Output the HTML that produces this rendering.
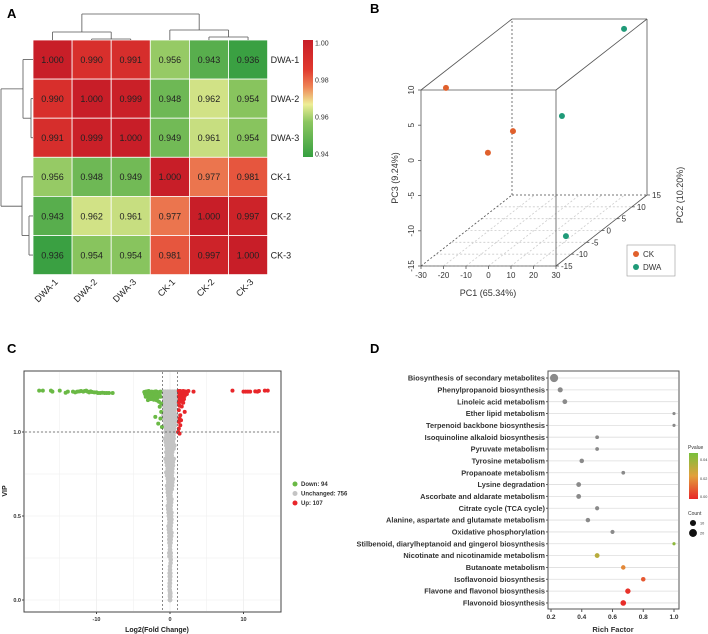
<!DOCTYPE html>
<html><head><meta charset="utf-8"><style>
html,body{margin:0;padding:0;background:#fff;}
svg{display:block;font-family:"Liberation Sans",Arial,sans-serif;}
</style></head><body>
<svg id="fig" width="708" height="634" viewBox="0 0 708 634" xmlns="http://www.w3.org/2000/svg">
<g id="pA"></g>
<g id="pB"></g>
<g id="pC"></g>
<g id="pD"></g>
</svg>
<script>
// ===== Panel A data =====
const samples = ["DWA-1","DWA-2","DWA-3","CK-1","CK-2","CK-3"];
const corrRow1 = [1.000,0.990,0.991,0.956,0.943,0.936];
const corrRow2 = [0.990,1.000,0.999,0.948,0.962,0.954];
const corrRow3 = [0.991,0.999,1.000,0.949,0.961,0.954];
const corrRow4 = [0.956,0.948,0.949,1.000,0.977,0.981];
const corrRow5 = [0.943,0.962,0.961,0.977,1.000,0.997];
const corrRow6 = [0.936,0.954,0.954,0.981,0.997,1.000];
const colorbarTicks = [1.00,0.98,0.96,0.94];
// ===== Panel B data =====
const pcaGroups = ["CK","CK","CK","DWA","DWA","DWA"];
const pc1Vals = [-18.9,-2.6,-7.0,19.8,28.6,14.2];
const pc2Vals = [-15,-5,-10,15,-12,0];
const pc3Vals = [10.3,0.8,-0.6,8.6,5.3,-15.8];
const pc1Ticks = [-30,-20,-10,0,10,20,30];
const pc2Ticks = [-15,-10,-5,0,5,10,15];
const pc3Ticks = [10,5,0,-5,-10,-15];
// ===== Panel C data =====
const downX = [-17.8,-17.3,-16.2,-16.0,-15.0,-14.2,-13.9,-13.2,-12.9,-12.6,-12.3,-12.1,-11.8,-11.6,-11.4,-11.2,-11.0,-10.8,-10.6,-10.3,-10.0,-9.8,-9.5,-9.2,-8.9,-8.6,-8.3,-7.8,-3.5,-3.3,-3.1,-2.9,-2.7,-2.5,-2.3,-2.1,-1.9,-1.7,-1.5,-1.3,-3.4,-3.2,-2.8,-2.6,-2.4,-2.2,-2.0,-1.8,-1.6,-1.4,-3.3,-2.9,-2.5,-2.1,-1.7,-1.3,-3.0,-2.6,-2.2,-1.8,-1.5,-1.2,-1.4,-1.2,-2.0,-1.3,-1.6,-1.1];
const downY = [1.246,1.246,1.246,1.240,1.246,1.234,1.240,1.240,1.236,1.240,1.242,1.244,1.240,1.244,1.246,1.240,1.236,1.242,1.238,1.236,1.236,1.232,1.232,1.234,1.232,1.232,1.232,1.232,1.238,1.240,1.242,1.244,1.238,1.240,1.236,1.240,1.242,1.238,1.236,1.240,1.226,1.224,1.226,1.222,1.224,1.226,1.220,1.224,1.222,1.226,1.210,1.206,1.212,1.208,1.204,1.210,1.190,1.196,1.192,1.188,1.180,1.170,1.150,1.120,1.090,1.080,1.050,1.030];
const upX = [1.2,1.4,1.6,1.8,2.0,2.2,2.5,3.2,1.3,1.5,1.7,1.9,2.1,2.3,1.2,1.4,1.6,1.8,2.0,1.3,1.5,1.7,1.9,1.2,1.5,1.8,1.3,1.6,2.0,1.2,1.4,1.3,1.5,1.2,1.4,1.2,8.5,10.0,10.3,10.6,10.9,11.6,11.9,12.1,12.9,13.3,1.1,1.3];
const upY = [1.244,1.244,1.240,1.244,1.242,1.240,1.244,1.240,1.228,1.226,1.230,1.226,1.228,1.226,1.212,1.214,1.210,1.212,1.214,1.196,1.198,1.194,1.196,1.176,1.180,1.174,1.156,1.152,1.120,1.130,1.100,1.080,1.070,1.060,1.040,1.020,1.246,1.240,1.240,1.240,1.240,1.242,1.240,1.244,1.246,1.246,1.000,0.990];
const unchX = [-0.9,-0.6,-0.3,0.0,0.3,0.6,0.9,-0.8,-0.4,0.1,0.5,0.8,-0.9,-0.5,-0.1,0.4,0.8,-0.7,-0.3,0.2,0.6,-0.8,-0.4,0.0,0.4,0.8,-0.7,-0.2,0.3,0.7,-0.6,-0.2,0.2,0.6,-0.7,-0.3,0.1,0.5,-0.5,-0.1,0.3,0.6,-0.5,-0.1,0.3,-0.6,-0.2,0.2,0.5,-0.4,0.0,0.4,-0.5,-0.1,0.3,-0.3,0.1,0.4,-0.4,0.0,0.3,-0.3,0.1,-0.2,0.2,-0.3,0.1,-0.2,0.2,-0.1,0.2,-0.2,0.1,-0.1,0.2,-0.1,0.1,0.0,0.1,-0.1,0.1,0.0,-0.05,0.05,0.0,-0.05,0.0,0.05,0.0,-0.05,0.0,0.0,-0.6,0.6,-0.8,0.8,-0.9,0.9];
const unchY = [1.24,1.24,1.24,1.24,1.24,1.24,1.24,1.20,1.20,1.20,1.20,1.20,1.16,1.16,1.16,1.16,1.16,1.12,1.12,1.12,1.12,1.08,1.08,1.08,1.08,1.08,1.04,1.04,1.04,1.04,1.00,1.00,1.00,1.00,0.96,0.96,0.96,0.96,0.92,0.92,0.92,0.92,0.88,0.88,0.88,0.84,0.84,0.84,0.84,0.80,0.80,0.80,0.76,0.76,0.76,0.72,0.72,0.72,0.68,0.68,0.68,0.64,0.64,0.60,0.60,0.56,0.56,0.52,0.52,0.48,0.48,0.44,0.44,0.40,0.40,0.36,0.36,0.32,0.28,0.28,0.24,0.20,0.16,0.16,0.12,0.08,0.05,0.04,0.02,0.10,0.30,0.0,1.22,1.22,1.18,1.18,1.10,1.10];
const volXTicks = [-10,0,10];
const volYTicks = [0.0,0.5,1.0];
// ===== Panel D data =====
const pathways = ["Biosynthesis of secondary metabolites","Phenylpropanoid biosynthesis","Linoleic acid metabolism","Ether lipid metabolism","Terpenoid backbone biosynthesis","Isoquinoline alkaloid biosynthesis","Pyruvate metabolism","Tyrosine metabolism","Propanoate metabolism","Lysine degradation","Ascorbate and aldarate metabolism","Citrate cycle (TCA cycle)","Alanine, aspartate and glutamate metabolism","Oxidative phosphorylation","Stilbenoid, diarylheptanoid and gingerol biosynthesis","Nicotinate and nicotinamide metabolism","Butanoate metabolism","Isoflavonoid biosynthesis","Flavone and flavonol biosynthesis","Flavonoid biosynthesis"];
const richFactor = [0.22,0.26,0.29,1.0,1.0,0.5,0.5,0.4,0.67,0.38,0.38,0.5,0.44,0.6,1.0,0.5,0.67,0.8,0.7,0.67];
const pathCount = [22,6,5,1,1,2,2,4,2,5,5,3,4,3,1,5,4,4,7,8];
const pathPvalue = [null,null,null,null,null,null,null,null,null,null,null,null,null,null,0.045,0.035,0.02,0.01,0.002,0.001];
const richTicks = [0.2,0.4,0.6,0.8,1.0];

const NS="http://www.w3.org/2000/svg";
function mk(parent,tag,attrs,text){const e=document.createElementNS(NS,tag);for(const k in attrs)e.setAttribute(k,attrs[k]);if(text!==undefined)e.textContent=text;parent.appendChild(e);return e;}

// ===== Panel A =====
(function(){
const g=document.getElementById('pA');
const t=mk(g,'text',{x:7,y:18,'font-size':13,'font-weight':'bold'},'A');

const x0=33,y0=40,cw=39.1,ch=39.1;
const rows=[corrRow1,corrRow2,corrRow3,corrRow4,corrRow5,corrRow6];
function hcol(v){const st=[[0.935,[54,158,64]],[0.955,[140,198,96]],[0.965,[238,238,150]],[0.975,[238,132,86]],[0.985,[224,56,46]],[1.0,[200,30,40]]];
 if(v<=st[0][0])return 'rgb('+st[0][1]+')';for(let i=1;i<st.length;i++){if(v<=st[i][0]){const f=(v-st[i-1][0])/(st[i][0]-st[i-1][0]);const c=st[i-1][1].map((a,j)=>Math.round(a+(st[i][1][j]-a)*f));return 'rgb('+c+')';}}return 'rgb('+st[5][1]+')';}
rows.forEach((row,i)=>row.forEach((v,j)=>{
 const r=mk(g,'rect',{x:x0+j*cw,y:y0+i*ch,width:cw,height:ch,fill:hcol(v),stroke:'#fff','stroke-width':0.8});
 
 const tx=mk(g,'text',{x:x0+j*cw+cw/2,y:y0+i*ch+ch/2+3.3,'font-size':9,'text-anchor':'middle',fill:'#222'},v.toFixed(3));
 
}));
samples.forEach((s,i)=>{
 const rl=mk(g,'text',{x:x0+6*cw+3,y:y0+i*ch+ch/2+3.3,'font-size':9,fill:'#222'},s);
 
 const cx=x0+i*cw+cw/2+6,cy=y0+6*ch+8;
 const cl=mk(g,'text',{x:cx,y:cy,'font-size':9,fill:'#222','text-anchor':'end',transform:'rotate(-45 '+cx+' '+cy+')'},s);
 
});
const c=i=>x0+i*cw+cw/2, r=i=>y0+i*ch+ch/2;
const dp=[
 [c(1),y0,c(1),39],[c(2),y0,c(2),39],[c(1),39,c(2),39],
 [c(0),y0,c(0),32],[(c(1)+c(2))/2,39,(c(1)+c(2))/2,32],[c(0),32,(c(1)+c(2))/2,32],
 [c(4),y0,c(4),37],[c(5),y0,c(5),37],[c(4),37,c(5),37],
 [c(3),y0,c(3),30],[(c(4)+c(5))/2,37,(c(4)+c(5))/2,30],[c(3),30,(c(4)+c(5))/2,30],
 [(c(0)+(c(1)+c(2))/2)/2,32,(c(0)+(c(1)+c(2))/2)/2,14],[(c(3)+(c(4)+c(5))/2)/2,30,(c(3)+(c(4)+c(5))/2)/2,14],
 [(c(0)+(c(1)+c(2))/2)/2,14,(c(3)+(c(4)+c(5))/2)/2,14],
 [x0,r(1),31,r(1)],[x0,r(2),31,r(2)],[31,r(1),31,r(2)],
 [x0,r(0),23,r(0)],[31,(r(1)+r(2))/2,23,(r(1)+r(2))/2],[23,r(0),23,(r(1)+r(2))/2],
 [x0,r(4),29,r(4)],[x0,r(5),29,r(5)],[29,r(4),29,r(5)],
 [x0,r(3),22,r(3)],[29,(r(4)+r(5))/2,22,(r(4)+r(5))/2],[22,r(3),22,(r(4)+r(5))/2],
 [23,(r(0)+(r(1)+r(2))/2)/2,1,(r(0)+(r(1)+r(2))/2)/2],[22,(r(3)+(r(4)+r(5))/2)/2,1,(r(3)+(r(4)+r(5))/2)/2],
 [1,(r(0)+(r(1)+r(2))/2)/2,1,(r(3)+(r(4)+r(5))/2)/2]];
dp.forEach(l=>{const e=mk(g,'line',{x1:l[0],y1:l[1],x2:l[2],y2:l[3],stroke:'#555','stroke-width':0.8});
 });
const defs=mk(g,'defs',{});const lg=mk(defs,'linearGradient',{id:'cbA',x1:0,y1:1,x2:0,y2:0});
[[0,'#36a040'],[0.3,'#8cc660'],[0.45,'#eeee96'],[0.6,'#ee8456'],[0.75,'#e0382e'],[1,'#c81e28']].forEach(s=>mk(lg,'stop',{offset:s[0],'stop-color':s[1]}));
const cb=mk(g,'rect',{x:303,y:40,width:10,height:117,fill:'url(#cbA)'});

colorbarTicks.forEach(v=>{const y=40+(1.0-v)/0.06*111+3;
 const e=mk(g,'text',{x:315,y:y+2.5,'font-size':7,fill:'#333'},v.toFixed(2));
 });
})();

// ===== Panel B =====
(function(){
const g=document.getElementById('pB');
const t=mk(g,'text',{x:370,y:13,'font-size':13,'font-weight':'bold'},'B');

const P=(a,b,c)=>[421+(a+30)/60*135+(b+15)/30*91, 266-(c+15)/25*176-(b+15)/30*71];
function L(p,q,dash,name,col){const e=mk(g,'line',{x1:p[0],y1:p[1],x2:q[0],y2:q[1],stroke:col||'#555','stroke-width':0.8});if(dash)e.setAttribute('stroke-dasharray',dash);}
pc1Ticks.forEach(a=>L(P(a,-15,-15),P(a,15,-15),'2,2','floor-grid','#ccc'));
pc2Ticks.forEach(b=>L(P(-30,b,-15),P(30,b,-15),'2,2','floor-grid','#ccc'));
L(P(-30,15,-15),P(30,15,-15),'2,2','box-edge-hidden');
L(P(-30,15,-15),P(-30,15,10),'2,2','box-edge-hidden');
L(P(-30,-15,-15),P(-30,15,-15),'2,2','box-edge-hidden');
[[[-30,-15,-15],[30,-15,-15]],[[-30,-15,10],[30,-15,10]],[[-30,-15,-15],[-30,-15,10]],[[30,-15,-15],[30,-15,10]],
 [[-30,15,10],[30,15,10]],[[30,15,-15],[30,15,10]],[[-30,-15,10],[-30,15,10]],[[30,-15,10],[30,15,10]],[[30,-15,-15],[30,15,-15]]]
 .forEach(e=>L(P(...e[0]),P(...e[1]),null,'box-edge'));
pc1Ticks.forEach(a=>{const p=P(a,-15,-15);L(p,[p[0],p[1]+3],null,'pc1-tick');
 const e=mk(g,'text',{x:p[0],y:p[1]+12,'font-size':8,'text-anchor':'middle',fill:'#333'},a);});
pc3Ticks.forEach(c=>{const p=P(-30,-15,c);L(p,[p[0]-3,p[1]],null,'pc3-tick');
 const e=mk(g,'text',{x:p[0]-7,y:p[1],'font-size':8,'text-anchor':'middle',fill:'#333',transform:'rotate(-90 '+(p[0]-7)+' '+p[1]+')'},c);});
pc2Ticks.forEach(b=>{const p=P(30,b,-15);L(p,[p[0]+3,p[1]],null,'pc2-tick');
 const e=mk(g,'text',{x:p[0]+5,y:p[1]+3,'font-size':8,fill:'#333'},b);});
let e=mk(g,'text',{x:488,y:296,'font-size':9,'text-anchor':'middle',fill:'#333'},'PC1 (65.34%)');
e=mk(g,'text',{x:398,y:178,'font-size':9,'text-anchor':'middle',fill:'#333',transform:'rotate(-90 398 178)'},'PC3 (9.24%)');
e=mk(g,'text',{x:683,y:195,'font-size':9,'text-anchor':'middle',fill:'#333',transform:'rotate(-90 683 195)'},'PC2 (10.20%)');
const col={CK:'#e0602c',DWA:'#1f9a78'};
pcaGroups.forEach((gr,i)=>{const p=P(pc1Vals[i],pc2Vals[i],pc3Vals[i]);
 const c=mk(g,'circle',{cx:p[0],cy:p[1],r:3,fill:col[gr]});});
const lb=mk(g,'rect',{x:627,y:245,width:48,height:31,fill:'#fff',stroke:'#999','stroke-width':0.6});
[['CK',254],['DWA',267]].forEach(([n,y])=>{const c=mk(g,'circle',{cx:636,cy:y,r:3,fill:col[n]});
 const tx=mk(g,'text',{x:643,y:y+3,'font-size':8,fill:'#333'},n);});
})();

// ===== Panel C =====
(function(){
const g=document.getElementById('pC');
let e=mk(g,'text',{x:7,y:353,'font-size':13,'font-weight':'bold'},'C');
const X=v=>170+v*7.35, Y=v=>600-v*168;
const fr=mk(g,'rect',{x:24,y:371,width:257,height:241,fill:'#fff',stroke:'#444','stroke-width':1});
[-15,-10,-5,0,5,10].forEach(v=>{const l=mk(g,'line',{x1:X(v),y1:372,x2:X(v),y2:611,stroke:'#eee','stroke-width':v%10===0?0.8:0.5});});
[0,0.25,0.5,0.75,1.0].forEach(v=>{const l=mk(g,'line',{x1:25,y1:Y(v),x2:280,y2:Y(v),stroke:'#eee','stroke-width':0.6});});
function pts(xs,ys,col,name,rad){xs.forEach((x,i)=>{const c=mk(g,'circle',{cx:X(x),cy:Y(ys[i]),r:rad,fill:col});});}
pts(unchX,unchY,'#c4c4c4','unchanged-point',2.3);
pts(unchX.map(v=>v*0.8),unchY.map(v=>Math.max(0,v-0.02)),'#c4c4c4','unchanged-point',2.3);
pts(downX,downY,'#6ab945','down-point',2);
pts(upX,upY,'#e8262a','up-point',2);
[[X(-1),372,X(-1),611],[X(1),372,X(1),611],[25,Y(1),280,Y(1)]].forEach(l=>{const d=mk(g,'line',{x1:l[0],y1:l[1],x2:l[2],y2:l[3],stroke:'#555','stroke-width':0.7,'stroke-dasharray':'2,2'});});
volXTicks.forEach(v=>{const l=mk(g,'line',{x1:X(v),y1:612,x2:X(v),y2:614,stroke:'#444'});
 const t=mk(g,'text',{x:X(v),y:621,'font-size':5.5,'text-anchor':'middle',fill:'#333','font-weight':'bold'},v);});
volYTicks.forEach(v=>{const l=mk(g,'line',{x1:22,y1:Y(v),x2:24,y2:Y(v),stroke:'#444'});
 const t=mk(g,'text',{x:21,y:Y(v)+2,'font-size':5.5,'text-anchor':'end',fill:'#333','font-weight':'bold'},v.toFixed(1));});
e=mk(g,'text',{x:157,y:632,'font-size':7,'text-anchor':'middle','font-weight':'bold',fill:'#222'},'Log2(Fold Change)');
e=mk(g,'text',{x:7,y:491,'font-size':7,'text-anchor':'middle','font-weight':'bold',fill:'#222',transform:'rotate(-90 7 491)'},'VIP');
[['Down: 94','#6ab945',484],['Unchanged: 756','#c4c4c4',493.5],['Up: 107','#e8262a',503]].forEach(([n,c,y])=>{
 const m=mk(g,'circle',{cx:295,cy:y,r:2.5,fill:c});
 const t=mk(g,'text',{x:301,y:y+2.2,'font-size':6,'font-weight':'bold',fill:'#333'},n);});
})();

// ===== Panel D =====
(function(){
const g=document.getElementById('pD');
let e=mk(g,'text',{x:370,y:353,'font-size':13,'font-weight':'bold'},'D');
const X=v=>551+(v-0.2)/0.8*123, Y=i=>378+i*11.84;
const fr=mk(g,'rect',{x:548,y:371,width:131,height:238,fill:'#fff',stroke:'#555','stroke-width':1});
function pcol(p){if(p===null)return '#8a8a8a';const f=Math.min(1,p/0.05);
 const a=[232,40,40],m=[226,160,60],b=[120,190,60];let c;
 if(f<0.5){c=a.map((v,j)=>Math.round(v+(m[j]-v)*f*2));}else{c=m.map((v,j)=>Math.round(v+(b[j]-v)*(f-0.5)*2));}return 'rgb('+c+')';}
pathways.forEach((n,i)=>{
 const l=mk(g,'line',{x1:549,y1:Y(i),x2:678,y2:Y(i),stroke:'#ddd','stroke-width':0.8});
 const tk=mk(g,'line',{x1:546,y1:Y(i),x2:548,y2:Y(i),stroke:'#555'});
 const t=mk(g,'text',{x:545,y:Y(i)+2.6,'font-size':7.4,'text-anchor':'end','font-weight':'bold',fill:'#333'},n);
});
pathways.forEach((n,i)=>{
 const c=mk(g,'circle',{cx:X(richFactor[i]),cy:Y(i),r:0.9+Math.sqrt(pathCount[i])*0.68,fill:pcol(pathPvalue[i])});
});
richTicks.forEach(v=>{const l=mk(g,'line',{x1:X(v),y1:609,x2:X(v),y2:612,stroke:'#555'});
 const t=mk(g,'text',{x:X(v),y:619,'font-size':6.5,'text-anchor':'middle','font-weight':'bold',fill:'#333'},v.toFixed(1));});
e=mk(g,'text',{x:613,y:632,'font-size':7.5,'text-anchor':'middle','font-weight':'bold',fill:'#333'},'Rich Factor');
e=mk(g,'text',{x:688,y:449,'font-size':5,fill:'#333'},'Pvalue');
const defs=mk(g,'defs',{});const lg=mk(defs,'linearGradient',{id:'pvG',x1:0,y1:1,x2:0,y2:0});
[[0,'#e82828'],[0.5,'#e2a03c'],[1,'#78c03c']].forEach(s=>mk(lg,'stop',{offset:s[0],'stop-color':s[1]}));
e=mk(g,'rect',{x:689,y:453,width:9,height:46,fill:'url(#pvG)'});
[['0.04',461],['0.02',480],['0.00',498]].forEach(([v,y])=>{const t=mk(g,'text',{x:700,y:y,'font-size':3.8,fill:'#333'},v);});
e=mk(g,'text',{x:688,y:515,'font-size':5,fill:'#333'},'Count');
[[10,523],[20,533]].forEach(([v,y])=>{const c=mk(g,'circle',{cx:693,cy:y,r:0.9+Math.sqrt(v)*0.68,fill:'#111'});
 const t=mk(g,'text',{x:700,y:y+1.5,'font-size':3.8,fill:'#333'},v);});
})();
</script>
</body></html>
